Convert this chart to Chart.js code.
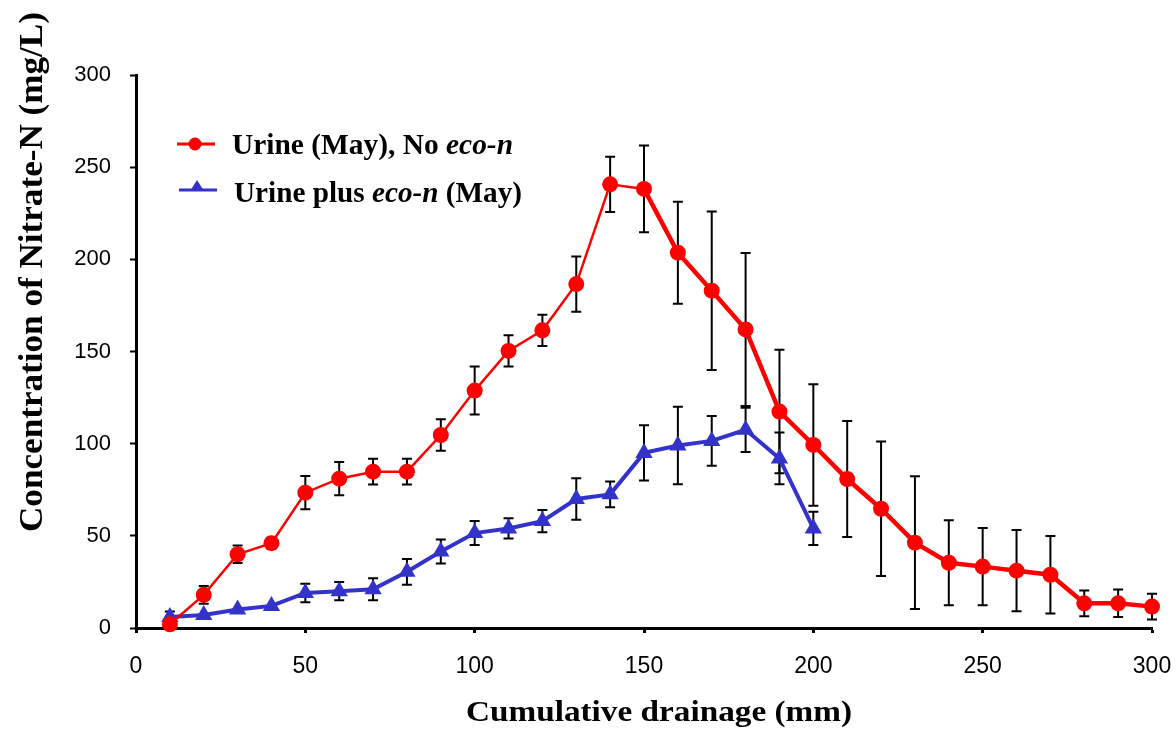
<!DOCTYPE html>
<html>
<head>
<meta charset="utf-8">
<script src="https://cdn.jsdelivr.net/npm/chart.js@4/dist/chart.umd.min.js"></script>
<style>
    html, body { margin: 0; padding: 0; background: #ffffff; }
    #nitrate-chart { display: block; }
</style>
</head>
<body>
<canvas id="nitrate-chart" width="1176" height="729"></canvas>
<script>
// cumulative drainage (mm) for each sampling
const drainage = [10, 20, 30, 40, 50, 60, 70, 80, 90, 100, 110, 120, 130, 140, 150,
    160, 170, 180, 190, 200, 210, 220, 230, 240, 250, 260, 270, 280, 290, 300];
const drainage_eco = [10, 20, 30, 40, 50, 60, 70, 80, 90, 100, 110, 120, 130, 140, 150,
    160, 170, 180, 190, 200];

// nitrate-N (mg/L), urine only
const urine_no_eco = [2, 18, 40, 46, 73.4, 81, 84.8, 84.8, 104.7, 128.8, 150.3, 161.5, 186.6, 240.7, 238.2,
    203.6, 183, 162, 117.4, 99.3, 80.8, 64.7, 46.3, 35.4, 33.3, 31.1, 28.9, 13.4, 13.4, 11.6];
const urine_no_eco_err = [0, 4.8, 4.8, 3, 9, 9, 7, 7, 8.5, 13, 8.5, 8.5, 15, 15, 23.5,
    27.7, 43, 41.5, 33.5, 33, 31.5, 36.5, 36, 23, 21, 22, 21, 7, 7.5, 7];

// nitrate-N (mg/L), urine plus eco-n
const urine_eco = [6, 7, 10, 12, 19, 20, 21, 30.5, 41.5, 51.5, 54, 58, 70, 72.5, 95,
    99, 101.5, 107.5, 92, 54];
const urine_eco_err = [3, 0, 0, 0, 5, 5, 6, 7, 6.5, 6.5, 5.5, 6, 11.3, 7, 15,
    21, 13.5, 12, 14, 9];

const x_ticks = [0, 50, 100, 150, 200, 250, 300];
const y_ticks = [0, 50, 100, 150, 200, 250, 300];

// legend text: [text, italic]
const legend_red = [["Urine (May), No ", false], ["eco-n", true]];
const legend_blue = [["Urine plus ", false], ["eco-n", true], [" (May)", false]];

const x_title = "Cumulative drainage (mm)";
const y_title = "Concentration of Nitrate-N (mg/L)";

const RED = "#ff0000";
const BLUE = "#3333cc";
const SERIF = "'Liberation Serif', 'DejaVu Serif', serif";
const SANS = "'Liberation Sans', Arial, sans-serif";

function to_points(xs, ys) {
    return xs.map((x, i) => ({ x: x, y: ys[i] }));
}

function serif_font(size, italic) {
    return `${italic ? "italic " : ""}bold ${size}px ${SERIF}`;
}

// draws text runs (mixed roman/italic) fitted to a given width
function draw_runs(ctx, runs, size, width) {
    let total = 0;
    for (const [text, italic] of runs) {
        ctx.font = serif_font(size, italic);
        total += ctx.measureText(text).width;
    }
    ctx.scale(width / total, 1);
    let cx = 0;
    for (const [text, italic] of runs) {
        ctx.font = serif_font(size, italic);
        ctx.fillText(text, cx, 0);
        cx += ctx.measureText(text).width;
    }
}

const error_bars = {
    id: "error_bars",
    beforeDatasetsDraw(chart) {
        const ctx = chart.ctx;
        const xs = chart.scales.x;
        const ys = chart.scales.y;
        ctx.save();
        ctx.strokeStyle = "#000000";
        ctx.lineWidth = 2;
        chart.data.datasets.forEach(ds => {
            const errs = ds.errors;
            ds.data.forEach((p, i) => {
                const e = errs[i];
                if (!e) return;
                const px = xs.getPixelForValue(p.x);
                const top = ys.getPixelForValue(p.y + e);
                const bottom = ys.getPixelForValue(Math.max(p.y - e, 0));
                ctx.beginPath();
                ctx.moveTo(px, top);
                ctx.lineTo(px, bottom);
                ctx.moveTo(px - 5, top);
                ctx.lineTo(px + 5, top);
                ctx.moveTo(px - 5, bottom);
                ctx.lineTo(px + 5, bottom);
                ctx.stroke();
            });
        });
        ctx.restore();
    }
};

const titles_and_legend = {
    id: "titles_and_legend",
    afterDraw(chart) {
        const ctx = chart.ctx;
        ctx.save();
        ctx.fillStyle = "#000000";
        ctx.textBaseline = "alphabetic";

        // x axis title
        ctx.save();
        ctx.translate(466, 721);
        draw_runs(ctx, [[x_title, false]], 29, 386);
        ctx.restore();

        // y axis title, rotated
        ctx.save();
        ctx.translate(42, 532);
        ctx.rotate(-Math.PI / 2);
        draw_runs(ctx, [[y_title, false]], 34, 520);
        ctx.restore();

        // legend entries
        ctx.strokeStyle = RED;
        ctx.lineWidth = 3;
        ctx.beginPath();
        ctx.moveTo(177, 144);
        ctx.lineTo(215, 144);
        ctx.stroke();
        ctx.fillStyle = RED;
        ctx.beginPath();
        ctx.arc(195, 144, 6.5, 0, Math.PI * 2);
        ctx.fill();

        ctx.strokeStyle = BLUE;
        ctx.beginPath();
        ctx.moveTo(179, 190);
        ctx.lineTo(217, 190);
        ctx.stroke();
        ctx.fillStyle = BLUE;
        ctx.beginPath();
        ctx.moveTo(197, 180);
        ctx.lineTo(204, 191);
        ctx.lineTo(190, 191);
        ctx.closePath();
        ctx.fill();

        ctx.fillStyle = "#000000";
        ctx.save();
        ctx.translate(232, 154);
        draw_runs(ctx, legend_red, 30, 281);
        ctx.restore();
        ctx.save();
        ctx.translate(234, 202);
        draw_runs(ctx, legend_blue, 30, 288);
        ctx.restore();

        ctx.restore();
    }
};

new Chart(document.getElementById("nitrate-chart"), {
    type: "line",
    data: {
        datasets: [{
            label: "Urine (May), No eco-n",
            data: to_points(drainage, urine_no_eco),
            errors: urine_no_eco_err,
            borderColor: RED,
            backgroundColor: RED,
            borderWidth: 2.5,
            segment: {
                borderWidth: c => c.p0.parsed.x >= 150 ? 4.5 : 2.5
            },
            pointStyle: "circle",
            pointRadius: 8,
            pointBorderWidth: 0,
            tension: 0,
            clip: false
        }, {
            label: "Urine plus eco-n (May)",
            data: to_points(drainage_eco, urine_eco),
            errors: urine_eco_err,
            borderColor: BLUE,
            backgroundColor: BLUE,
            borderWidth: 4,
            pointStyle: "triangle",
            pointRadius: 10,
            pointBorderWidth: 0,
            tension: 0,
            clip: false
        }]
    },
    options: {
        responsive: false,
        animation: false,
        devicePixelRatio: 1,
        layout: { padding: { left: 0, top: 75, right: 24, bottom: 0 } },
        plugins: {
            legend: { display: false },
            tooltip: { enabled: false }
        },
        scales: {
            x: {
                type: "linear",
                min: 0,
                max: 300,
                afterBuildTicks: s => { s.ticks = x_ticks.map(v => ({ value: v })); },
                afterFit: s => { s.height = 101; s.paddingLeft = 0; s.paddingRight = 0; },
                border: { color: "#000000", width: 3 },
                grid: { drawOnChartArea: false, drawTicks: true, tickLength: 5, tickColor: "#000000", tickWidth: 3 },
                ticks: { color: "#000000", padding: 20, maxRotation: 0, font: { family: SANS, size: 23 } }
            },
            y: {
                type: "linear",
                min: 0,
                max: 300,
                afterBuildTicks: s => { s.ticks = y_ticks.map(v => ({ value: v })); },
                afterFit: s => { s.width = 136; },
                border: { color: "#000000", width: 3 },
                grid: { drawOnChartArea: false, drawTicks: true, tickLength: 6, tickColor: "#000000", tickWidth: 2 },
                ticks: { color: "#000000", padding: 19, font: { family: SANS, size: 22 } }
            }
        }
    },
    plugins: [error_bars, titles_and_legend]
});
</script>
</body>
</html>
